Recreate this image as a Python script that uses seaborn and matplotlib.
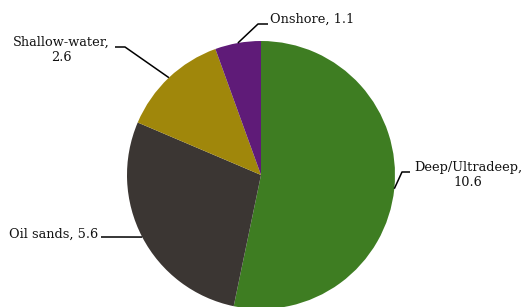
import numpy as np
import seaborn as sns
import matplotlib.pyplot as plt

sns.set_style("white")
plt.rcParams['font.family'] = ['DejaVu Serif']

labels = ['Deep/Ultradeep', 'Oil sands', 'Shallow-water', 'Onshore']
values = [10.6, 5.6, 2.6, 1.1]
colors = ['#3e7d22', '#3b3633', '#a0870b', '#5f1b78']

W, H = 529, 307
cx, cy, r = 261, 175, 134

fig = plt.figure(figsize=(W / 100, H / 100), dpi=100)
ax = fig.add_axes([0, 0, 1, 1])

wedges, _ = ax.pie(values, colors=colors, startangle=90, counterclock=False,
                   radius=1, center=(0, 0), frame=True,
                   wedgeprops=dict(linewidth=0))
ax.set_xlim(-cx / r, (W - cx) / r)
ax.set_ylim(-(H - cy) / r, cy / r)
ax.set_aspect('equal')
ax.axis('off')


def px(x, y):
    return (x - cx) / r, (cy - y) / r


# leader layout: elbow point, end point, text anchor, alignment
layout = {
    'Deep/Ultradeep': dict(elbow=(402, 172), end=(410, 172), text=(468, 175), ha='center', two=True),
    'Oil sands': dict(elbow=(120, 237), end=(101, 237), text=(98, 234), ha='right', two=False),
    'Shallow-water': dict(elbow=(125, 47), end=(115, 47), text=(61, 50), ha='center', two=True),
    'Onshore': dict(elbow=(258, 24), end=(268, 24), text=(270, 19), ha='left', two=False),
}

for w, lab, val in zip(wedges, labels, values):
    ang = np.deg2rad((w.theta1 + w.theta2) / 2)
    p0 = (np.cos(ang), np.sin(ang))
    L = layout[lab]
    p1 = px(*L['elbow'])
    p2 = px(*L['end'])
    ax.plot([p0[0], p1[0], p2[0]], [p0[1], p1[1], p2[1]], color='black', lw=1.1,
            solid_capstyle='butt')
    txt = f"{lab},\n{val}" if L['two'] else f"{lab}, {val}"
    tx, ty = px(*L['text'])
    ax.text(tx, ty, txt, ha=L['ha'], va='center', fontsize=9.3, color='#111111',
            linespacing=1.2, multialignment='center')

fig.savefig('out.png', dpi=100, facecolor='white')
